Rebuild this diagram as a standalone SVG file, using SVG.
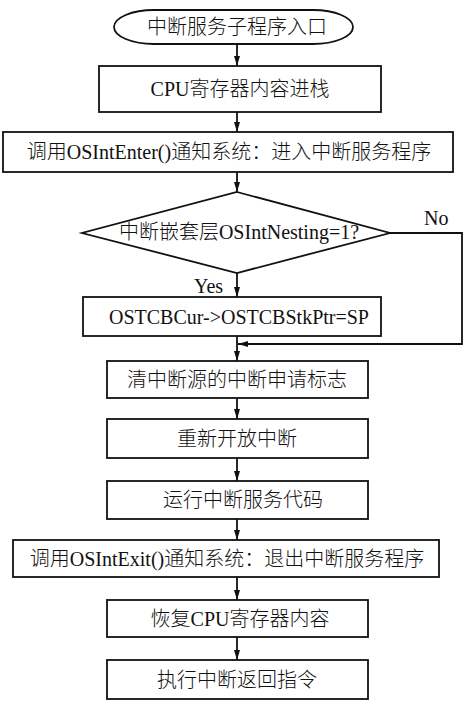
<svg xmlns="http://www.w3.org/2000/svg" width="469" height="710" viewBox="0 0 469 710">
<defs>
<style>
.b{fill:#fff;stroke:#111;stroke-width:1.8}
.t{font-family:"Liberation Serif","Noto Sans CJK SC",serif;font-size:20px;font-weight:300;fill:#111;text-anchor:middle;dominant-baseline:central}
.l{font-family:"Liberation Serif",serif;font-size:20px;fill:#111}
.c{fill:none;stroke:#111;stroke-width:1.8}
</style>
<marker id="ah" viewBox="0 0 10 6" refX="10" refY="3" markerWidth="10" markerHeight="6" markerUnits="userSpaceOnUse" orient="auto">
<path d="M0,0 L10,3 L0,6 Z" fill="#111"/>
</marker>
</defs>
<rect width="469" height="710" fill="#fff"/>
<g id="connectors">
<line class="c" x1="237" y1="44" x2="237" y2="66" marker-end="url(#ah)"/>
<line class="c" x1="237" y1="112" x2="237" y2="132" marker-end="url(#ah)"/>
<line class="c" x1="237" y1="172" x2="237" y2="192" marker-end="url(#ah)"/>
<line class="c" x1="237" y1="273" x2="237" y2="297" marker-end="url(#ah)"/>
<line class="c" x1="237" y1="336" x2="237" y2="361" marker-end="url(#ah)"/>
<polyline class="c" points="390,233 462,233 462,344 238,344" marker-end="url(#ah)"/>
<line class="c" x1="237" y1="398" x2="237" y2="419" marker-end="url(#ah)"/>
<line class="c" x1="237" y1="458" x2="237" y2="481" marker-end="url(#ah)"/>
<line class="c" x1="237" y1="519" x2="237" y2="540" marker-end="url(#ah)"/>
<line class="c" x1="237" y1="577" x2="237" y2="600" marker-end="url(#ah)"/>
<line class="c" x1="237" y1="637" x2="237" y2="660" marker-end="url(#ah)"/>
<text class="l" x="424" y="225">No</text>
<text class="l" x="194" y="293">Yes</text>
</g>
<g id="start">
<rect class="b" x="114" y="10" width="239" height="34" rx="40" ry="17"/>
<text class="t" x="237" y="27">中断服务子程序入口</text>
</g>
<g id="push">
<rect class="b" x="99" y="66" width="282" height="46"/>
<text class="t" x="240" y="89">CPU寄存器内容进栈</text>
</g>
<g id="enter">
<rect class="b" x="3" y="132" width="450" height="40"/>
<text class="t" x="229" y="152">调用OSIntEnter()通知系统：进入中断服务程序</text>
</g>
<g id="decision">
<polygon class="b" points="237,192 390,233 237,273 82,233"/>
<text class="t" x="239" y="232">中断嵌套层OSIntNesting=1?</text>
</g>
<g id="savesp">
<rect class="b" x="83" y="297" width="298" height="39"/>
<text class="t" x="239" y="317">OSTCBCur-&gt;OSTCBStkPtr=SP</text>
</g>
<g id="clear">
<rect class="b" x="107" y="361" width="261" height="37"/>
<text class="t" x="237" y="380">清中断源的中断申请标志</text>
</g>
<g id="enable">
<rect class="b" x="107" y="419" width="261" height="39"/>
<text class="t" x="237" y="439">重新开放中断</text>
</g>
<g id="run">
<rect class="b" x="107" y="481" width="261" height="38"/>
<text class="t" x="243" y="500">运行中断服务代码</text>
</g>
<g id="exit">
<rect class="b" x="13" y="540" width="426" height="37"/>
<text class="t" x="227" y="559">调用OSIntExit()通知系统：退出中断服务程序</text>
</g>
<g id="restore">
<rect class="b" x="107" y="600" width="261" height="37"/>
<text class="t" x="240" y="619">恢复CPU寄存器内容</text>
</g>
<g id="ret">
<rect class="b" x="107" y="660" width="261" height="39"/>
<text class="t" x="237" y="680">执行中断返回指令</text>
</g>
</svg>
